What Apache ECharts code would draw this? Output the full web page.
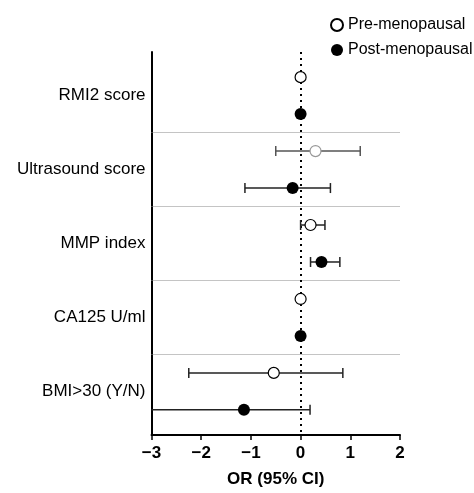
<!DOCTYPE html>
<html>
<head>
<meta charset="utf-8">
<script src="https://cdn.jsdelivr.net/npm/echarts@6/dist/echarts.min.js"></script>
<style>
  html, body { margin: 0; padding: 0; background: #fff; }
  #chart { width: 474px; height: 493px; }
</style>
</head>
<body>
<div id="chart"></div>
<script>
var groups = ['RMI2 score', 'Ultrasound score', 'MMP index', 'CA125 U/ml', 'BMI>30 (Y/N)'];
var xTicks = [-3, -2, -1, 0, 1, 2];

// odds ratios and 95% CI, one value per group
var preOR   = [0.00, 0.30, 0.20, 0.00, -0.54];
var preLow  = [0.00, -0.50, 0.00, 0.00, -2.25];
var preHigh = [0.00, 1.20, 0.49, 0.00, 0.85];

var postOR   = [0.00, -0.16, 0.42, 0.00, -1.14];
var postLow  = [0.00, -1.12, 0.20, -0.02, -3.40];
var postHigh = [0.00, 0.60, 0.79, 0.06, 0.19];

var font = "'Liberation Sans', Arial, sans-serif";

// each group takes two rows: pre on top, post below
var preData = [], postData = [], bars = [];
groups.forEach(function (g, i) {
    var pt = { value: [preOR[i], i * 2] };
    // the ultrasound pre-menopausal marker is drawn greyed in the original
    if (i === 1) pt.itemStyle = { borderColor: '#999' };
    preData.push(pt);
    postData.push([postOR[i], i * 2 + 1]);
    bars.push([i * 2, preLow[i], preHigh[i], i === 1 ? '#555' : '#222']);
    bars.push([i * 2 + 1, postLow[i], postHigh[i], '#222']);
});

var chart = echarts.init(document.getElementById('chart'));

function renderBar(params, api) {
    var y = api.value(0);
    var lo = api.coord([api.value(1), y]);
    var hi = api.coord([api.value(2), y]);
    var cs = params.coordSys;
    var color = api.value(3);
    var cap = 5;
    var x1 = Math.max(lo[0], cs.x), x2 = Math.min(hi[0], cs.x + cs.width);
    if (x2 - x1 < 0.5) return;
    var style = { stroke: color, lineWidth: 1.5 };
    var kids = [{ type: 'line', shape: { x1: x1, y1: lo[1], x2: x2, y2: lo[1] }, style: style }];
    if (lo[0] >= cs.x) kids.push({ type: 'line', shape: { x1: x1, y1: lo[1] - cap, x2: x1, y2: lo[1] + cap }, style: style });
    if (hi[0] <= cs.x + cs.width) kids.push({ type: 'line', shape: { x1: x2, y1: lo[1] - cap, x2: x2, y2: lo[1] + cap }, style: style });
    return { type: 'group', children: kids };
}

var option = {
    animation: false,
    textStyle: { fontFamily: font },
    grid: { left: 151.5, right: 74, top: 52, bottom: 50 },
    legend: {
        orient: 'vertical',
        left: 325,
        top: 12,
        itemGap: 9,
        itemWidth: 12,
        itemHeight: 12,
        data: ['Pre-menopausal', 'Post-menopausal'],
        textStyle: { fontSize: 16, color: '#000', fontFamily: font }
    },
    xAxis: {
        type: 'value',
        min: -3,
        max: 2,
        interval: 1,
        name: 'OR (95% CI)',
        nameLocation: 'middle',
        nameGap: 36,
        nameTextStyle: { fontSize: 17, fontWeight: 'bold', color: '#000', fontFamily: font },
        axisLine: { onZero: false, lineStyle: { color: '#000', width: 2 } },
        axisTick: { show: true, length: 5, lineStyle: { color: '#000', width: 1.5 } },
        axisLabel: {
            fontSize: 17, fontWeight: 'bold', color: '#000', margin: 10,
            formatter: function (v) { return v < 0 ? '\u2212' + Math.abs(v) : String(v); }
        },
        splitLine: { show: false }
    },
    yAxis: {
        type: 'value',
        inverse: true,
        min: -0.68,
        max: 9.68,
        axisLine: { show: true, onZero: false, lineStyle: { color: '#000', width: 2 } },
        axisTick: { show: false },
        splitLine: { show: false },
        axisLabel: {
            fontSize: 17, color: '#000', margin: 6,
            customValues: [0.5, 2.5, 4.5, 6.5, 8.5],
            formatter: function (v) { return groups[Math.round((v - 0.5) / 2)] || ''; }
        }
    },
    series: [
        {
            type: 'custom',
            name: 'ci',
            renderItem: renderBar,
            encode: { x: [1, 2], y: 0 },
            data: bars,
            z: 2,
            silent: true,
            markLine: {
                z: 1,
                silent: true,
                symbol: 'none',
                label: { show: false },
                lineStyle: { color: '#888', type: 'dotted', width: 1 },
                data: [
                    { yAxis: 1.5 }, { yAxis: 3.5 }, { yAxis: 5.5 }, { yAxis: 7.5 },
                    { xAxis: 0, lineStyle: { color: '#000', type: [2, 4], width: 2 } }
                ]
            }
        },
        {
            type: 'scatter',
            name: 'Pre-menopausal',
            symbol: 'circle',
            symbolSize: 11,
            itemStyle: { color: '#fff', borderColor: '#000', borderWidth: 1.2, opacity: 1 },
            data: preData,
            z: 4
        },
        {
            type: 'scatter',
            name: 'Post-menopausal',
            symbol: 'circle',
            symbolSize: 12,
            itemStyle: { color: '#000', borderColor: '#000', borderWidth: 0, opacity: 1 },
            data: postData,
            z: 4
        }
    ]
};

chart.setOption(option);
window.addEventListener('resize', chart.resize);
</script>
</body>
</html>
